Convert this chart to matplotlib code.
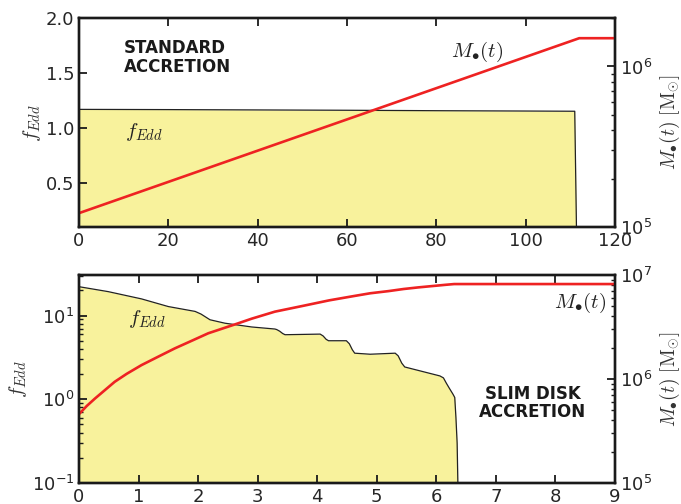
import matplotlib
matplotlib.use("Agg")
import matplotlib.pyplot as plt
from matplotlib.ticker import LogLocator, NullFormatter

plt.rcParams['mathtext.fontset'] = 'cm'
plt.rcParams['font.family'] = ['DejaVu Sans']
plt.rcParams['axes.unicode_minus'] = False

# ---- Data: standard accretion (top) ----
t_std = [0, 20, 40, 60, 80, 100, 111.0, 111.4]
f_std = [1.17, 1.168, 1.165, 1.162, 1.158, 1.155, 1.153, 0.05]
tM_std = [0, 112, 120]
M_std = [1.22e5, 1.5e6, 1.5e6]

# ---- Data: slim disk accretion (bottom) ----
t_slim = [0, 0.49, 1.05, 1.50, 1.95, 2.05, 2.2, 2.45, 2.90, 3.29, 3.32, 3.37,
          3.42, 3.46, 4.05, 4.10, 4.15, 4.19, 4.49, 4.54, 4.59, 4.63, 4.89,
          5.31, 5.36, 5.42, 5.47, 5.73, 6.06, 6.12, 6.17, 6.22, 6.28, 6.31,
          6.33, 6.35, 6.37]
f_slim = [22.1, 19.3, 15.8, 12.8, 11.2, 10.4, 8.9, 8.1, 7.3, 6.9, 6.8, 6.5,
          6.1, 5.9, 6.0, 5.7, 5.2, 5.0, 5.0, 4.6, 3.9, 3.55, 3.45,
          3.55, 3.3, 2.7, 2.43, 2.18, 1.9, 1.8, 1.55, 1.35, 1.15, 1.05,
          0.6, 0.3, 0.05]
tM_slim = [0, 0.13, 0.27, 0.60, 0.80, 1.05, 1.35, 1.61, 1.90, 2.17, 2.62,
           2.90, 3.29, 3.77, 4.20, 4.60, 4.89, 5.20, 5.45, 5.70, 6.0, 6.15,
           6.3, 9.0]
M_slim = [4.59e5, 5.5e5, 6.5e5, 9.4e5, 1.12e6, 1.36e6, 1.66e6, 1.97e6,
          2.34e6, 2.75e6, 3.35e6, 3.8e6, 4.44e6, 5.06e6, 5.7e6, 6.25e6,
          6.67e6, 7.0e6, 7.33e6, 7.6e6, 7.89e6, 8.04e6, 8.18e6, 8.18e6]

fill_color = '#f8f29c'
red = '#ee2222'
tick_color = '#262626'
fs = 13

fig = plt.figure(figsize=(6.81, 5.04), dpi=100)
ax1 = fig.add_axes([0.116, 0.5496, 0.787, 0.4144])
ax3 = fig.add_axes([0.116, 0.0417, 0.787, 0.4127])


def style(ax):
    for s in ax.spines.values():
        s.set_linewidth(1.7)
        s.set_color('#1a1a1a')
    ax.tick_params(which='major', direction='in', length=6, width=1.3,
                   labelsize=fs, colors='#1a1a1a', labelcolor=tick_color)
    ax.tick_params(which='minor', direction='in', length=3, width=1.0,
                   colors='#1a1a1a')


# ---- top panel ----
ax1.fill_between(t_std, 0, f_std, color=fill_color, linewidth=0)
ax1.plot(t_std, f_std, color='#222222', lw=0.9)
ax1.set_xlim(0, 120)
ax1.set_ylim(0.1, 2.0)
ax1.set_xticks([0, 20, 40, 60, 80, 100, 120])
ax1.set_yticks([0.5, 1.0, 1.5, 2.0])
style(ax1)
ax1.tick_params(axis='x', top=True, bottom=True)
ax1.set_ylabel(r'$f_{Edd}$', fontsize=15, color='#333333', labelpad=2)
ax1.text(0.084, 0.81, 'STANDARD\nACCRETION', transform=ax1.transAxes,
         fontsize=12, fontweight='bold', color='#1a1a1a', va='center',
         ha='left', linespacing=1.05)
ax1.text(0.086, 0.455, r'$f_{Edd}$', transform=ax1.transAxes, fontsize=15,
         color='#222222', va='center', ha='left')

ax2 = ax1.twinx()
ax2.plot(tM_std, M_std, color=red, lw=1.9)
ax2.set_yscale('log')
ax2.set_ylim(1e5, 2.0e6)
ax2.yaxis.set_major_locator(LogLocator(base=10))
ax2.yaxis.set_minor_locator(LogLocator(base=10, subs=range(2, 10)))
ax2.yaxis.set_minor_formatter(NullFormatter())
style(ax2)
ax2.set_ylabel(r'$M_{\bullet}(t)\ [\mathrm{M}_{\odot}]$', fontsize=14,
               color='#333333', labelpad=4)
ax2.text(0.694, 0.837, r'$M_{\bullet}(t)$', transform=ax2.transAxes,
         fontsize=15, color='#222222', va='center', ha='left')

# ---- bottom panel ----
ax3.fill_between(t_slim, 1e-3, f_slim, color=fill_color, linewidth=0)
ax3.plot(t_slim, f_slim, color='#222222', lw=0.9)
ax3.set_yscale('log')
ax3.set_xlim(0, 9)
ax3.set_ylim(0.1, 30.5)
ax3.set_xticks(range(0, 10))
ax3.yaxis.set_major_locator(LogLocator(base=10))
ax3.yaxis.set_minor_locator(LogLocator(base=10, subs=range(2, 10)))
ax3.yaxis.set_minor_formatter(NullFormatter())
style(ax3)
ax3.tick_params(axis='x', top=True, bottom=True)
ax3.set_ylabel(r'$f_{Edd}$', fontsize=15, color='#333333', labelpad=2)
ax3.text(0.092, 0.79, r'$f_{Edd}$', transform=ax3.transAxes, fontsize=15,
         color='#222222', va='center', ha='left')
ax3.text(0.847, 0.385, 'SLIM DISK\nACCRETION', transform=ax3.transAxes,
         fontsize=12, fontweight='bold', color='#1a1a1a', va='center',
         ha='center', linespacing=1.05)

ax4 = ax3.twinx()
ax4.plot(tM_slim, M_slim, color=red, lw=1.9)
ax4.set_yscale('log')
ax4.set_ylim(1e5, 1e7)
ax4.yaxis.set_major_locator(LogLocator(base=10))
ax4.yaxis.set_minor_locator(LogLocator(base=10, subs=range(2, 10)))
ax4.yaxis.set_minor_formatter(NullFormatter())
style(ax4)
ax4.set_ylabel(r'$M_{\bullet}(t)\ [\mathrm{M}_{\odot}]$', fontsize=14,
               color='#333333', labelpad=4)
ax4.text(0.985, 0.865, r'$M_{\bullet}(t)$', transform=ax4.transAxes,
         fontsize=15, color='#222222', va='center', ha='right')

fig.savefig('out.png', dpi=100)
